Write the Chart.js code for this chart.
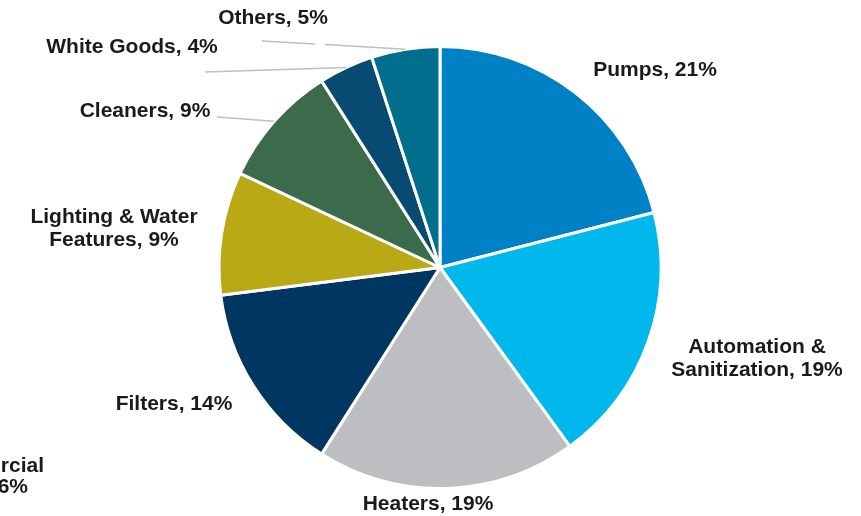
<!DOCTYPE html>
<html><head><meta charset="utf-8">
<script src="https://cdn.jsdelivr.net/npm/chart.js@4"></script>
<style>html,body{margin:0;padding:0;background:#fff;overflow:hidden}</style>
</head><body>
<canvas id="c" width="861" height="516" style="display:block;width:861px;height:516px"></canvas>
<script>
// ---- data ----
const categories = ["Pumps", "Automation & Sanitization", "Heaters", "Filters", "Lighting & Water Features", "Cleaners", "White Goods", "Others"];
const shares = [21, 19, 19, 14, 9, 9, 4, 5];
const sliceColors = ["#0080C5", "#00B8EB", "#BDBEC1", "#003662", "#B9AA15", "#3B6B4A", "#074B72", "#006E8C"];
const outsideLabel = ["Commercial", "6%"]; // label of a neighbouring chart, cut off at the left edge

// ---- label layout (positions / styling only) ----
const labelLayout = [
  {x: 655, y: 76, breakAfter: null},
  {x: 757, y: 353, breakAfter: "&"},
  {x: 428, y: 510, breakAfter: null},
  {x: 174, y: 410, breakAfter: null},
  {x: 114, y: 223, breakAfter: "Water"},
  {x: 145, y: 117, breakAfter: null, leader: [217, 117]},
  {x: 132, y: 53, breakAfter: null, leader: [205, 72]},
  {x: 273, y: 24, breakAfter: null, leader: [262, 41], gap: [0.37, 0.44]}
];

function labelText(i) {
  const t = categories[i] + ", " + shares[i] + "%";
  const b = labelLayout[i].breakAfter;
  if (!b) return [t];
  const k = t.indexOf(b) + b.length;
  return [t.slice(0, k).trim(), t.slice(k).trim()];
}

const labelPlugin = {
  id: 'pieLabels',
  afterDraw(chart) {
    const ctx = chart.ctx;
    const meta = chart.getDatasetMeta(0);
    ctx.save();
    // leader lines
    ctx.strokeStyle = "#BFBFBF";
    ctx.lineWidth = 1.5;
    labelLayout.forEach((L, i) => {
      if (!L.leader) return;
      const arc = meta.data[i];
      const mid = (arc.startAngle + arc.endAngle) / 2;
      const ex = arc.x + Math.cos(mid) * arc.outerRadius;
      const ey = arc.y + Math.sin(mid) * arc.outerRadius;
      const [sx, sy] = L.leader;
      ctx.beginPath();
      if (L.gap) {
        const p = t => [sx + (ex - sx) * t, sy + (ey - sy) * t];
        ctx.moveTo(sx, sy); ctx.lineTo(...p(L.gap[0]));
        ctx.moveTo(...p(L.gap[1])); ctx.lineTo(ex, ey);
      } else {
        ctx.moveTo(sx, sy); ctx.lineTo(ex, ey);
      }
      ctx.stroke();
    });
    // labels
    ctx.fillStyle = "#1A1A1A";
    ctx.font = "bold 21px 'Liberation Sans', Arial, sans-serif";
    ctx.textAlign = "center";
    ctx.textBaseline = "alphabetic";
    labelLayout.forEach((L, i) => {
      labelText(i).forEach((line, j) => ctx.fillText(line, L.x, L.y + j * 22.5));
    });
    // cut-off label at left edge
    ctx.textAlign = "right";
    ctx.fillText(outsideLabel[0], 44, 472);
    ctx.fillText(outsideLabel[1], 28, 493);
    ctx.restore();
  }
};

new Chart(document.getElementById('c'), {
  type: 'pie',
  data: {
    labels: categories,
    datasets: [{
      data: shares,
      backgroundColor: sliceColors,
      borderColor: "#FFFFFF",
      borderWidth: 3
    }]
  },
  options: {
    responsive: false,
    animation: false,
    devicePixelRatio: 1,
    layout: {padding: {left: 217.5, right: 198.5, top: 45, bottom: 26}},
    plugins: {legend: {display: false}, tooltip: {enabled: false}}
  },
  plugins: [labelPlugin]
});
</script>
</body></html>
